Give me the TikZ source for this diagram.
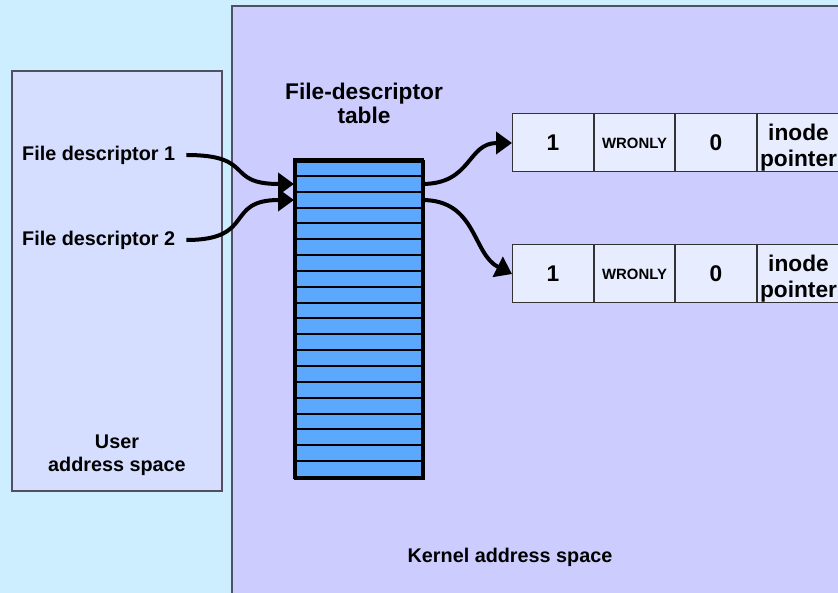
\documentclass[tikz,border=0pt]{standalone}
\usepackage{fontspec}
\setmainfont{Liberation Sans}
\usetikzlibrary{arrows.meta}
\definecolor{bgc}{HTML}{CCEEFF}
\definecolor{userc}{HTML}{D6DEFF}
\definecolor{kernc}{HTML}{CCCCFF}
\definecolor{tabc}{HTML}{5CA8FF}
\definecolor{recc}{HTML}{E8ECFF}
\definecolor{edgec}{HTML}{505060}
\tikzset{
  lbl/.style={font=\bfseries\fontsize{19.8}{24}\selectfont, align=center, inner sep=0pt},
  big/.style={font=\bfseries\fontsize{22.7}{25}\selectfont, align=center, inner sep=0pt},
  space/.style={draw=edgec, line width=1.5pt},
  cell/.style={draw=black!80, line width=1pt, fill=recc, minimum height=58pt, inner sep=0pt, anchor=west, align=center},
  bigcell/.style={cell, font=\bfseries\fontsize{22.7}{26}\selectfont},
  smallcell/.style={cell, font=\bfseries\fontsize{14.9}{16}\selectfont},
  ptr/.style={line width=4pt, -{Triangle[length=16pt,width=22pt]}},
}
\begin{document}
\begin{tikzpicture}[x=1pt,y=-1pt]
\fill[bgc] (0,0) rectangle (838,593);
\useasboundingbox (0,0) rectangle (838,593);
% address spaces
\draw[space, fill=kernc] (232,6) rectangle (845,600);
\draw[space, fill=userc] (12,71) rectangle (222,491);
\node[lbl] (user) at (117,455) {User\\[-1pt]address space};
\node[lbl] (kern) at (510,557) {Kernel address space};
% table
\node[big] (title) at (364,103) {File-descriptor\\[-1pt]table};
\node[draw=black, line width=3pt, fill=tabc, minimum width=128pt, minimum height=317pt, inner sep=0pt, anchor=north west] (tab) at (294,160) {};
\foreach \i in {1,...,19}{
  \draw[line width=2pt] (294,160+15.85*\i) -- (422,160+15.85*\i);
}
\draw[line width=3pt] (294,160) rectangle (422,477);
% descriptors
\node[lbl, anchor=west] (fd1) at (22,155) {File descriptor 1};
\node[lbl, anchor=west] (fd2) at (22,240) {File descriptor 2};
\coordinate (t1in) at (294,184);
\coordinate (t2in) at (294,200);
\coordinate (t1out) at (422,184);
\coordinate (t2out) at (422,200);
% records
\node[bigcell, minimum width=81pt] (r1a) at (512,143) {1};
\node[smallcell, minimum width=80pt] (r1b) at (r1a.east) {WRONLY};
\node[bigcell, minimum width=81pt] (r1c) at (r1b.east) {0};
\node[bigcell, minimum width=82pt] (r1d) at (r1c.east) {\rule{0pt}{25pt}inode\\pointer};
\node[bigcell, minimum width=81pt] (r2a) at (512,274) {1};
\node[smallcell, minimum width=80pt] (r2b) at (r2a.east) {WRONLY};
\node[bigcell, minimum width=81pt] (r2c) at (r2b.east) {0};
\node[bigcell, minimum width=82pt] (r2d) at (r2c.east) {\rule{0pt}{25pt}inode\\pointer};
% pointers
\draw[ptr] ([xshift=11pt]fd1.east) .. controls +(70,0) and +(-70,0) .. (t1in);
\draw[ptr] ([xshift=11pt]fd2.east) .. controls +(70,0) and +(-70,0) .. (t2in);
\draw[ptr] (t1out) .. controls +(50,0) and +(-45,0) .. (r1a.west);
\draw[ptr] (t2out) .. controls +(55,0) and +(-40,-20) .. (r2a.west);
\end{tikzpicture}
\end{document}
